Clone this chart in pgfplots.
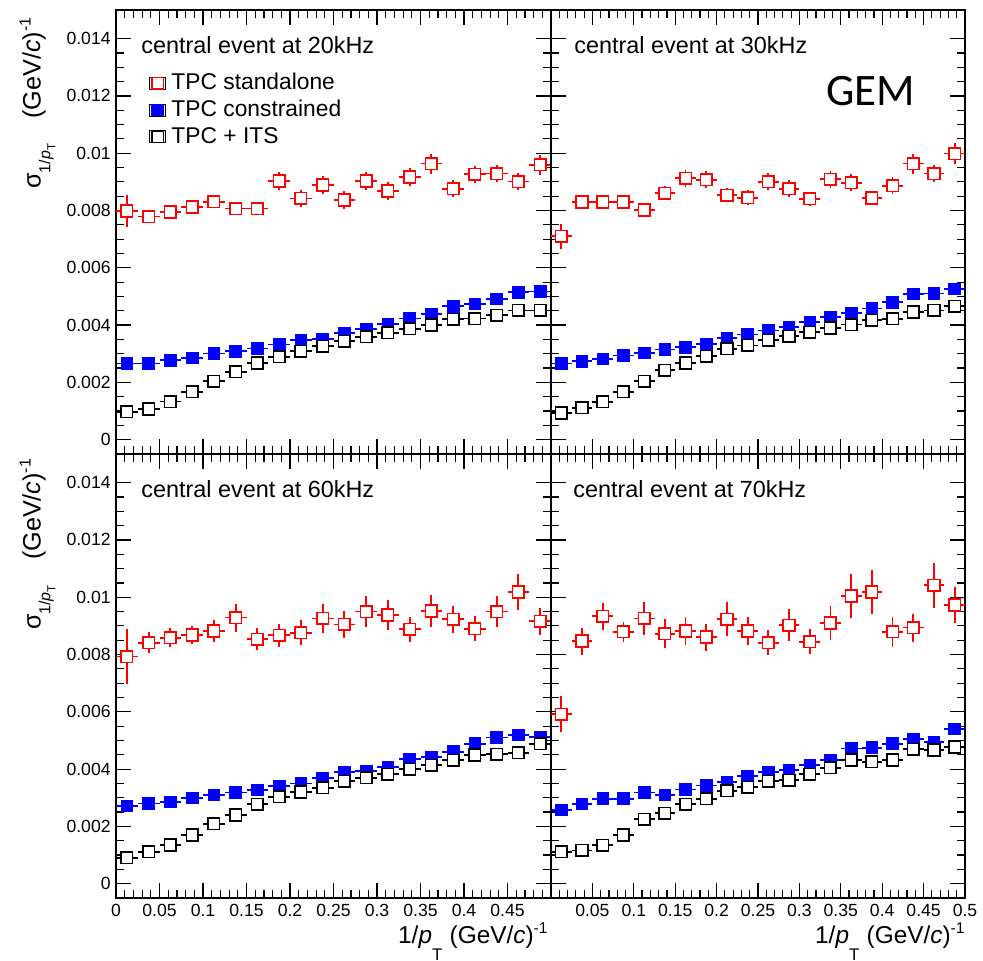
\documentclass[border=0pt]{standalone}
\usepackage{fontspec}
\setmainfont{Liberation Sans}
\newfontfamily\gemfont{Carlito}
\usepackage{pgfplots}
\usepackage{pgfplotstable}
\pgfplotsset{compat=1.18}

% columns: x ex r er b k ebk
\pgfplotstableread{
x ex r er b k ebk
0.0125 0.0125 0.00798 0.00056 0.00266 0.00097 0.0001
0.0375 0.0125 0.00779 0.0002 0.00266 0.00107 0.0001
0.0625 0.0125 0.00795 0.0002 0.00277 0.00133 0.0001
0.0875 0.0125 0.00812 0.0002 0.00286 0.00167 0.0001
0.1125 0.0125 0.00831 0.0002 0.00301 0.00204 0.0001
0.1375 0.0125 0.00807 0.0002 0.00309 0.00237 0.0001
0.1625 0.0125 0.00807 0.0002 0.00318 0.00268 0.0001
0.1875 0.0125 0.00903 0.0003 0.00332 0.00289 0.0001
0.2125 0.0125 0.00842 0.0003 0.00347 0.00309 0.0001
0.2375 0.0125 0.00889 0.0003 0.00352 0.00326 0.0001
0.2625 0.0125 0.00837 0.0003 0.00373 0.00344 0.0001
0.2875 0.0125 0.00903 0.0003 0.00385 0.00359 0.0001
0.3125 0.0125 0.00868 0.0003 0.00404 0.00373 0.0001
0.3375 0.0125 0.00917 0.0003 0.00423 0.00387 0.0001
0.3625 0.0125 0.00964 0.00035 0.00439 0.00400 0.0001
0.3875 0.0125 0.00876 0.0003 0.00466 0.00420 0.0001
0.4125 0.0125 0.00927 0.0003 0.00474 0.00423 0.0001
0.4375 0.0125 0.00929 0.0003 0.00492 0.00434 0.0001
0.4625 0.0125 0.00901 0.0003 0.00515 0.00451 0.0001
0.4875 0.0125 0.00960 0.00035 0.00517 0.00451 0.0001
}\tabA
\pgfplotstableread{
x ex r er b k ebk
0.0125 0.0125 0.00710 0.00044 0.00266 0.00093 0.0001
0.0375 0.0125 0.00830 0.0002 0.00274 0.00111 0.0001
0.0625 0.0125 0.00830 0.0002 0.00282 0.00132 0.0001
0.0875 0.0125 0.00830 0.0002 0.00294 0.00167 0.0001
0.1125 0.0125 0.00802 0.0002 0.00303 0.00204 0.0001
0.1375 0.0125 0.00860 0.00025 0.00315 0.00242 0.0001
0.1625 0.0125 0.00913 0.0003 0.00323 0.00268 0.0001
0.1875 0.0125 0.00907 0.0003 0.00334 0.00291 0.0001
0.2125 0.0125 0.00853 0.00025 0.00355 0.00317 0.0001
0.2375 0.0125 0.00845 0.00025 0.00367 0.00329 0.0001
0.2625 0.0125 0.00900 0.0003 0.00381 0.00347 0.0001
0.2875 0.0125 0.00876 0.0003 0.00394 0.00361 0.0001
0.3125 0.0125 0.00841 0.00025 0.00411 0.00375 0.0001
0.3375 0.0125 0.00909 0.0003 0.00429 0.00390 0.0001
0.3625 0.0125 0.00897 0.0003 0.00441 0.00402 0.0001
0.3875 0.0125 0.00844 0.00025 0.00458 0.00417 0.0001
0.4125 0.0125 0.00886 0.0003 0.00480 0.00422 0.0001
0.4375 0.0125 0.00964 0.00035 0.00509 0.00446 0.0001
0.4625 0.0125 0.00929 0.0003 0.00510 0.00451 0.0001
0.4875 0.0125 0.00999 0.00038 0.00527 0.00466 0.0001
}\tabB
\pgfplotstableread{
x ex r er b k ebk
0.0125 0.0125 0.00793 0.00096 0.00271 0.00091 0.0001
0.0375 0.0125 0.00841 0.00037 0.00280 0.00111 0.0001
0.0625 0.0125 0.00859 0.00033 0.00286 0.00135 0.0001
0.0875 0.0125 0.00868 0.0003 0.00300 0.00170 0.0001
0.1125 0.0125 0.00882 0.00038 0.00310 0.00209 0.0001
0.1375 0.0125 0.00929 0.00049 0.00318 0.00240 0.0001
0.1625 0.0125 0.00853 0.00038 0.00327 0.00277 0.0001
0.1875 0.0125 0.00867 0.0004 0.00341 0.00303 0.0001
0.2125 0.0125 0.00876 0.00044 0.00350 0.00320 0.0001
0.2375 0.0125 0.00926 0.0005 0.00368 0.00335 0.0001
0.2625 0.0125 0.00905 0.00047 0.00390 0.00358 0.0001
0.2875 0.0125 0.00950 0.00055 0.00393 0.00370 0.0001
0.3125 0.0125 0.00938 0.00052 0.00407 0.00382 0.0001
0.3375 0.0125 0.00888 0.00043 0.00434 0.00399 0.0001
0.3625 0.0125 0.00952 0.00055 0.00443 0.00413 0.0001
0.3875 0.0125 0.00923 0.00047 0.00461 0.00431 0.0001
0.4125 0.0125 0.00890 0.00043 0.00489 0.00449 0.0001
0.4375 0.0125 0.00950 0.00055 0.00510 0.00452 0.0001
0.4625 0.0125 0.01018 0.00064 0.00519 0.00457 0.0001
0.4875 0.0125 0.00916 0.00047 0.00513 0.00489 0.0001
}\tabC
\pgfplotstableread{
x ex r er b k ebk
0.0125 0.0125 0.00591 0.00063 0.00257 0.00112 0.0001
0.0375 0.0125 0.00847 0.00047 0.00279 0.00116 0.0001
0.0625 0.0125 0.00934 0.00047 0.00297 0.00134 0.0001
0.0875 0.0125 0.00880 0.00035 0.00297 0.00170 0.0001
0.1125 0.0125 0.00926 0.00058 0.00318 0.00225 0.0001
0.1375 0.0125 0.00873 0.0005 0.00310 0.00246 0.0001
0.1625 0.0125 0.00882 0.00049 0.00329 0.00277 0.0001
0.1875 0.0125 0.00861 0.00047 0.00343 0.00297 0.0001
0.2125 0.0125 0.00923 0.0006 0.00356 0.00324 0.0001
0.2375 0.0125 0.00882 0.0005 0.00376 0.00337 0.0001
0.2625 0.0125 0.00841 0.00044 0.00390 0.00358 0.0001
0.2875 0.0125 0.00902 0.00056 0.00397 0.00361 0.0001
0.3125 0.0125 0.00845 0.00044 0.00413 0.00382 0.0001
0.3375 0.0125 0.00910 0.00058 0.00432 0.00405 0.0001
0.3625 0.0125 0.01004 0.00076 0.00472 0.00432 0.0001
0.3875 0.0125 0.01018 0.00078 0.00475 0.00426 0.0001
0.4125 0.0125 0.00879 0.00052 0.00489 0.00432 0.0001
0.4375 0.0125 0.00894 0.00049 0.00504 0.00469 0.0001
0.4625 0.0125 0.01042 0.00079 0.00495 0.00467 0.0001
0.4875 0.0125 0.00973 0.00064 0.00541 0.00477 0.0001
}\tabD

\newcommand{\xlab}{1/\textit{p}\raisebox{-8.5pt}{\fontsize{8.4}{8.4}\selectfont T}\hspace{0.3em}(GeV/\textit{c})\raisebox{5pt}{\fontsize{7.8}{7.8}\selectfont -1}}
\newcommand{\ylab}{σ\raisebox{-4.8pt}{\fontsize{8}{8}\selectfont 1/\textit{p}\raisebox{-2.5pt}{\fontsize{5.8}{5.8}\selectfont T}}\hspace{1em}(GeV/\textit{c})\raisebox{5pt}{\fontsize{8}{8}\selectfont -1}}

\pgfplotsset{
  gem/.style={
    scale only axis, height=222pt,
    xmin=0, xmax=0.5, ymin=-0.0005, ymax=0.015,
    xtick={0,0.05,0.1,0.15,0.2,0.25,0.3,0.35,0.4,0.45,0.5},
    ytick={0,0.002,0.004,0.006,0.008,0.01,0.012,0.014},
    minor x tick num=4, minor y tick num=3,
    scaled x ticks=false, scaled y ticks=false,
    tick align=inside, major tick length=7.5pt, minor tick length=4pt,
    axis line style={line width=0.9pt},
    every tick/.style={black, line width=0.6pt},
    every minor tick/.style={black, line width=0.6pt},
    tick label style={font=\fontsize{8.8}{10}\selectfont},
    xticklabel style={anchor=base, yshift=-9pt},
    yticklabel style={inner sep=2.5pt},
    xlabel style={at={(axis description cs:1,0)}, anchor=base east, inner sep=0pt, yshift=-22.5pt, font=\fontsize{12.2}{14}\selectfont},
    ylabel style={inner sep=0pt, anchor=base east, font=\fontsize{12.6}{14}\selectfont},
  },
  nox/.style={xticklabels={}},
  noy/.style={yticklabels={}},
  ylabs/.style={yticklabels={0,0.002,0.004,0.006,0.008,0.01,0.012,0.014}},
  errs/.style={only marks, mark=*, mark size=0pt,
    mark options={draw=none, fill=none},
    error bars/x dir=both, error bars/x explicit,
    error bars/y dir=both, error bars/y explicit,
    error bars/error mark=none,
    error bars/error bar style={#1, line width=0.9pt}},
  openmk/.style={only marks, mark=square*, mark size=2.9pt,
    mark options={draw=#1, fill=white, line width=0.8pt, solid}},
  fullmk/.style={only marks, mark=square*, mark size=2.9pt,
    mark options={draw=#1, fill=#1, solid}},
}

\newcommand{\threeplots}[1]{%
  \addplot[errs=red, forget plot] table[x=x, y=r, x error=ex, y error=er] {#1};
  \addplot[openmk=red] table[x=x, y=r] {#1};
  \addplot[errs=blue, forget plot] table[x=x, y=b, x error=ex, y error=ebk] {#1};
  \addplot[fullmk=blue] table[x=x, y=b] {#1};
  \addplot[errs=black, forget plot] table[x=x, y=k, x error=ex, y error=ebk] {#1};
  \addplot[openmk=black] table[x=x, y=k] {#1};
}

\begin{document}
\begin{tikzpicture}
\useasboundingbox (0pt,0pt) rectangle (491.5pt,-480.5pt);

% top left
\begin{axis}[gem, width=217.5pt, at={(58pt,-5pt)}, anchor=north west,
  nox, ylabs,
  ylabel={\ylab}, ylabel style={at={(axis description cs:-0.173,0.984)}},
  legend cell align=left,
  legend image code/.code={\path (0pt,-3pt) rectangle (8pt,3pt); \draw[#1] plot coordinates {(4pt,0pt)};},
  legend style={at={(rel axis cs:0.0753,0.866)}, anchor=north west, draw=none, fill=none,
    inner sep=0pt, row sep=0pt, column sep=1.75pt,
    font=\fontsize{11.4}{13}\selectfont,
    nodes={inner sep=1pt, text height=8.8pt, text depth=2.6pt}},
]
\threeplots{\tabA}
\legend{TPC standalone, TPC constrained, TPC + ITS}
\node[anchor=base west, inner sep=0pt, font=\fontsize{11.7}{13}\selectfont] at (rel axis cs:0.0575,0.9025) {central event at 20kHz};
\end{axis}

% top right
\begin{axis}[gem, width=207pt, at={(275.5pt,-5pt)}, anchor=north west,
  nox, noy]
\threeplots{\tabB}
\node[anchor=base west, inner sep=0pt, font=\fontsize{11.7}{13}\selectfont] at (rel axis cs:0.0556,0.9025) {central event at 30kHz};
\node[anchor=base west, inner sep=0pt, font=\gemfont\fontsize{22.5}{24}\selectfont] at (rel axis cs:0.664,0.7838) {GEM};
\end{axis}

% bottom left
\begin{axis}[gem, width=217.5pt, at={(58pt,-227pt)}, anchor=north west,
  ylabs,
  xticklabels={0,0.05,0.1,0.15,0.2,0.25,0.3,0.35,0.4,0.45,{}},
  ylabel={\ylab}, ylabel style={at={(axis description cs:-0.173,0.99)}},
  xlabel={\xlab}, xlabel style={xshift=-1.5pt}]
\threeplots{\tabC}
\node[anchor=base west, inner sep=0pt, font=\fontsize{11.7}{13}\selectfont] at (rel axis cs:0.0575,0.9016) {central event at 60kHz};
\end{axis}

% bottom right
\begin{axis}[gem, width=207pt, at={(275.5pt,-227pt)}, anchor=north west,
  noy,
  xticklabels={{},0.05,0.1,0.15,0.2,0.25,0.3,0.35,0.4,0.45,0.5},
  xlabel={\xlab}]
\threeplots{\tabD}
\node[anchor=base west, inner sep=0pt, font=\fontsize{11.7}{13}\selectfont] at (rel axis cs:0.0531,0.9016) {central event at 70kHz};
\end{axis}
\end{tikzpicture}
\end{document}
